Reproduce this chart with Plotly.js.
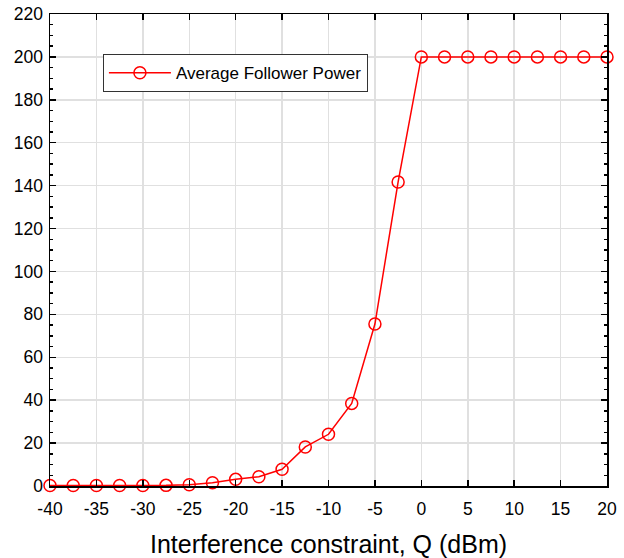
<!DOCTYPE html>
<html>
<head>
<meta charset="utf-8">
<script src="https://cdn.plot.ly/plotly-3.0.1.min.js"></script>
<style>html,body{margin:0;padding:0;background:#fff;}#chart{width:624px;height:558px;}</style>
</head>
<body>
<div id="chart"></div>
<script>
const qValues = [-40, -37.5, -35, -32.5, -30, -27.5, -25, -22.5, -20, -17.5, -15, -12.5, -10, -7.5, -5, -2.5, 0, 2.5, 5, 7.5, 10, 12.5, 15, 17.5, 20];
const avgFollowerPower = [0.2, 0.2, 0.2, 0.2, 0.2, 0.3, 0.6, 1.5, 3.1, 4.3, 7.8, 18.2, 24.1, 38.5, 75.5, 141.7, 200, 200, 200, 200, 200, 200, 200, 200, 200];
const seriesName = 'Average Follower Power';
const xTitle = 'Interference constraint, Q (dBm)';
const xTickVals = [-40, -35, -30, -25, -20, -15, -10, -5, 0, 5, 10, 15, 20];
const xTickText = ['-40', '-35', '-30', '-25', '-20', '-15', '-10', '-5', '0', '5', '10', '15', '20'];
const yTickVals = [0, 20, 40, 60, 80, 100, 120, 140, 160, 180, 200, 220];
const yTickText = ['0', '20', '40', '60', '80', '100', '120', '140', '160', '180', '200', '220'];

const font = 'Arial, "Liberation Sans", sans-serif';
const trace = {
  x: qValues, y: avgFollowerPower, name: seriesName,
  type: 'scatter', mode: 'lines+markers',
  line: {color: '#ff0000', width: 1.5},
  marker: {symbol: 'circle-open', size: 12, color: '#ff0000', line: {width: 1.5, color: '#ff0000'}},
  cliponaxis: false, showlegend: true
};
const layout = {
  width: 624, height: 558,
  margin: {l: 50, r: 17, t: 14, b: 72},
  paper_bgcolor: '#fff', plot_bgcolor: '#fff',
  font: {family: font, size: 17, color: '#000'},
  showlegend: true,
  legend: {x: 0.095, y: 0.915, xanchor: 'left', yanchor: 'top', bgcolor: '#fff', bordercolor: '#333', borderwidth: 1,
           font: {family: font, size: 17, color: '#000'}, tracegroupgap: 0, itemwidth: 62},
  xaxis: {
    range: [-40, 20], tickmode: 'array', tickvals: xTickVals, ticktext: xTickText,
    ticks: 'inside', ticklen: 6, tickwidth: 1.5, tickcolor: '#000',
    showline: true, linecolor: '#000', linewidth: 1.5, mirror: 'allticks',
    showgrid: true, gridcolor: '#e0e0e0', gridwidth: 1.5, zeroline: false,
    tickfont: {family: font, size: 17.5, color: '#000'}, ticklabelstandoff: 6,
    title: {text: xTitle, font: {family: font, size: 25, color: '#000'}, standoff: 21}
  },
  yaxis: {
    range: [0, 220], tickmode: 'array', tickvals: yTickVals, ticktext: yTickText,
    ticks: 'inside', ticklen: 6, tickwidth: 1.5, tickcolor: '#000',
    showline: true, linecolor: '#000', linewidth: 1.5, mirror: 'allticks',
    showgrid: true, gridcolor: '#e0e0e0', gridwidth: 1.5, zeroline: false,
    tickfont: {family: font, size: 17.5, color: '#000'}, ticklabelstandoff: 2,
    minor: {dtick: 5, tick0: 0, ticks: 'inside', ticklen: 3, tickwidth: 1.5, tickcolor: '#000', showgrid: false}
  }
};
Plotly.newPlot('chart', [trace], layout, {displayModeBar: false, staticPlot: true});
</script>
</body>
</html>
